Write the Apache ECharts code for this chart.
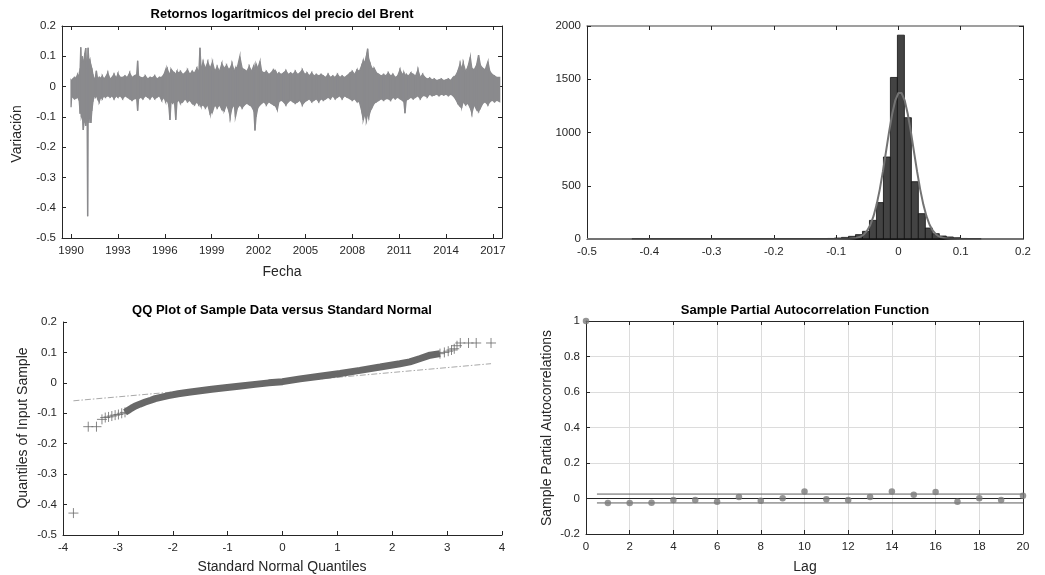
<!DOCTYPE html>
<html><head><meta charset="utf-8">
<script src="https://cdn.jsdelivr.net/npm/echarts@6/dist/echarts.min.js"></script>
<style>html,body{margin:0;padding:0;background:#fff}#c{width:1045px;height:575px}</style>
</head><body><div id="c"></div>
<script>
// ---------- Panel 1: log returns envelope ----------
const tsDates = [1990.00,1990.04,1990.12,1990.22,1990.32,1990.42,1990.52,1990.58,1990.62,1990.66,1990.72,1990.78,1990.83,1990.88,1990.94,1990.98,1991.03,1991.06,1991.09,1991.14,1991.20,1991.27,1991.33,1991.40,1991.46,1991.55,1991.62,1991.70,1991.80,1991.90,
1992.00,1992.10,1992.20,1992.35,1992.50,1992.62,1992.75,1992.90,1993.00,1993.15,1993.30,1993.45,1993.60,1993.75,1993.90,1994.05,1994.20,1994.26,1994.32,1994.45,1994.60,1994.75,1994.90,1995.05,1995.20,1995.35,1995.50,1995.65,1995.80,1995.95,
1996.05,1996.15,1996.25,1996.33,1996.40,1996.50,1996.62,1996.70,1996.78,1996.90,1997.00,1997.15,1997.30,1997.45,1997.60,1997.75,1997.90,1998.05,1998.18,1998.25,1998.32,1998.45,1998.60,1998.75,1998.90,1999.05,1999.20,1999.35,1999.50,1999.65,1999.80,1999.95,
2000.10,2000.18,2000.30,2000.45,2000.52,2000.65,2000.80,2000.95,2001.10,2001.25,2001.40,2001.55,2001.70,2001.77,2001.84,2001.95,2002.09,2002.20,2002.35,2002.50,2002.65,2002.80,2002.95,2003.10,2003.20,2003.30,2003.45,2003.60,2003.75,2003.90,
2004.05,2004.20,2004.35,2004.50,2004.65,2004.80,2004.95,2005.10,2005.25,2005.40,2005.55,2005.70,2005.85,2006.00,2006.15,2006.30,2006.45,2006.60,2006.75,2006.90,2007.05,2007.20,2007.35,2007.50,2007.65,2007.85,2008.00,2008.15,2008.30,2008.45,
2008.60,2008.70,2008.80,2008.90,2008.98,2009.05,2009.15,2009.25,2009.40,2009.55,2009.70,2009.85,2010.00,2010.15,2010.30,2010.45,2010.60,2010.75,2010.90,2011.05,2011.20,2011.30,2011.37,2011.45,2011.60,2011.75,2011.90,2012.05,2012.20,2012.35,
2012.50,2012.65,2012.80,2012.95,2013.10,2013.25,2013.40,2013.55,2013.70,2013.85,2014.00,2014.15,2014.30,2014.45,2014.60,2014.75,2014.90,2015.00,2015.10,2015.25,2015.40,2015.55,2015.65,2015.80,2015.95,2016.08,2016.20,2016.35,2016.50,2016.68,
2016.80,2016.95,2017.10,2017.25,2017.43];
const tsHigh = [.022,.020,.025,.030,.028,.040,.035,.060,.130,.070,.100,.075,.090,.110,.127,.080,.090,.060,.128,.085,.090,.070,.060,.040,.022,.030,.052,.025,.030,.028,
.035,.025,.030,.045,.025,.030,.040,.028,.042,.030,.030,.035,.030,.045,.030,.035,.040,.085,.035,.030,.028,.035,.025,.030,.028,.035,.025,.030,.030,.040,
.055,.060,.045,.040,.058,.050,.045,.040,.050,.045,.050,.040,.045,.055,.040,.050,.045,.060,.050,.128,.060,.080,.060,.080,.060,.080,.050,.065,.050,.075,.060,.070,
.055,.060,.075,.050,.060,.065,.099,.060,.055,.050,.066,.050,.070,.050,.075,.060,.083,.050,.045,.050,.040,.045,.055,.050,.040,.045,.040,.045,.052,.040,
.045,.040,.050,.040,.045,.055,.040,.045,.035,.045,.035,.040,.035,.040,.035,.030,.040,.030,.035,.030,.040,.030,.035,.030,.035,.045,.050,.040,.055,.050,
.070,.085,.080,.100,.125,.090,.075,.060,.060,.045,.040,.035,.040,.035,.045,.035,.040,.030,.035,.055,.040,.045,.035,.040,.035,.045,.040,.035,.055,.030,
.040,.030,.025,.028,.022,.025,.020,.022,.025,.020,.022,.025,.020,.030,.035,.050,.075,.060,.077,.050,.065,.097,.060,.055,.070,.104,.070,.060,.055,.082,
.050,.040,.035,.030,.030];
const tsLow = [-.068,-.030,-.035,-.040,-.038,-.035,-.045,-.090,-.060,-.100,-.090,-.143,-.120,-.100,-.130,-.110,-.120,-.428,-.100,-.120,-.090,-.120,-.080,-.050,-.030,-.035,-.030,-.040,-.050,-.035,
-.040,-.030,-.035,-.030,-.035,-.030,-.040,-.030,-.035,-.030,-.040,-.030,-.035,-.040,-.045,-.040,-.040,-.080,-.040,-.035,-.040,-.030,-.035,-.040,-.030,-.040,-.035,-.030,-.045,-.035,
-.050,-.045,-.060,-.110,-.050,-.055,-.050,-.110,-.050,-.045,-.055,-.050,-.040,-.050,-.045,-.055,-.060,-.050,-.060,-.055,-.065,-.060,-.070,-.060,-.090,-.083,-.060,-.070,-.060,-.075,-.080,-.060,
-.080,-.100,-.070,-.060,-.100,-.070,-.060,-.070,-.060,-.055,-.060,-.065,-.080,-.145,-.100,-.070,-.060,-.055,-.050,-.060,-.050,-.055,-.060,-.065,-.077,-.050,-.045,-.050,-.060,-.050,
-.045,-.050,-.055,-.050,-.045,-.060,-.050,-.045,-.040,-.050,-.045,-.040,-.050,-.040,-.045,-.040,-.035,-.040,-.030,-.040,-.035,-.030,-.040,-.030,-.035,-.040,-.045,-.040,-.050,-.050,
-.080,-.110,-.090,-.110,-.090,-.100,-.080,-.070,-.055,-.050,-.045,-.040,-.045,-.040,-.040,-.045,-.035,-.040,-.035,-.040,-.045,-.050,-.088,-.045,-.040,-.035,-.040,-.035,-.030,-.040,
-.030,-.030,-.035,-.025,-.030,-.028,-.025,-.030,-.025,-.028,-.025,-.030,-.025,-.030,-.040,-.055,-.065,-.068,-.050,-.060,-.055,-.070,-.088,-.060,-.075,-.082,-.070,-.055,-.050,-.060,
-.050,-.045,-.050,-.045,-.050];
const yearTicks = [1990,1993,1996,1999,2002,2005,2008,2011,2014,2017];

// ---------- Panel 2: histogram + normal fit ----------
const histMin = -0.428, histBinWidth = 0.01122;
const histCounts = [1,0,0,0,0,0,0,0,0,0,0,0,0,0,0,0,0,0,0,0,0,0,0,0,
  1,2,1,3,5,9,15,25,41,72,175,342,770,1517,1914,1139,538,238,103,50,28,19,12,5,3,2];
const fitX = [-0.5,-0.1,-0.08,-0.07,-0.06,-0.055,-0.05,-0.045,-0.04,-0.035,-0.03,-0.025,-0.02,-0.015,-0.01,-0.005,0,0.0025,0.005,0.01,0.015,0.02,0.025,0.03,0.035,0.04,0.045,0.05,0.055,0.06,0.065,0.075,0.085,0.1,0.2];
const fitY = [0,0,1.2,6,24,45,80,134,214,323,464,632,818,1006,1174,1302,1371,1380,1371,1302,1174,1006,818,632,464,323,214,134,80,45,24,6,1.2,0,0];

// ---------- Panel 3: QQ plot ----------
const qqX = [-3.81,-3.54,-3.39,-3.29,-3.23,-3.17,-3.11,-3.05,-2.99,-2.93,-2.87,-2.81,-2.75,-2.69,-2.60,-2.50,-2.40,-2.32,-2.20,-2.08,-1.90,-1.71,-1.50,-1.29,-1.05,-0.80,-0.50,-0.25,0.00,0.32,0.68,1.05,1.41,1.78,2.14,2.32,2.51,2.69,2.87,2.95,3.02,3.08,3.13,3.18,3.24,3.39,3.53,3.80];
const qqY = [-0.428,-0.144,-0.144,-0.120,-0.114,-0.112,-0.109,-0.106,-0.104,-0.100,-0.097,-0.090,-0.083,-0.077,-0.070,-0.063,-0.057,-0.052,-0.047,-0.042,-0.036,-0.031,-0.026,-0.021,-0.016,-0.011,-0.005,0.000,0.004,0.013,0.022,0.031,0.041,0.052,0.063,0.069,0.080,0.091,0.096,0.100,0.104,0.108,0.112,0.122,0.131,0.131,0.131,0.131];
const qqRefX = [-3.81, 3.80];
const qqRefY = [-0.059, 0.063];

// ---------- Panel 4: PACF ----------
const pacfLags = [0,1,2,3,4,5,6,7,8,9,10,11,12,13,14,15,16,17,18,19,20];
const pacfValues = [1,-0.026,-0.026,-0.024,-0.009,-0.009,-0.019,0.008,-0.013,0.002,0.039,-0.004,-0.009,0.008,0.039,0.021,0.036,-0.019,0.002,-0.009,0.015];
const pacfBoundX = [0.5, 20];
const pacfBound = 0.025;

// ---------- styling ----------
const FONT = '"Liberation Sans", Arial, Helvetica, sans-serif';
const AXC = '#262626';
const TS = '#8a8a8d';
const QQC = '#686868';

function mkAxis(grid, pos, min, max, interval, o) {
  o = o || {};
  const ax = {
    type: 'value', gridIndex: grid, position: pos, min: min, max: max,
    axisLine: {show: true, onZero: false, lineStyle: {color: o.lineColor || AXC, width: o.lineWidth || 1}},
    axisTick: {show: true, inside: true, length: 4, lineStyle: {color: AXC, width: 1}},
    axisLabel: {show: !!o.labels, color: AXC, fontSize: 11.5, fontFamily: FONT, margin: o.margin || 6,
      showMinLabel: true, showMaxLabel: true,
      formatter: o.fmt || function (v) { return String(parseFloat(Number(v).toFixed(4))); }},
    splitLine: {show: !!o.split, lineStyle: {color: '#dcdcdc', width: 1}}
  };
  if (interval != null) ax.interval = interval;
  if (o.custom) { ax.axisTick.customValues = o.custom; ax.axisLabel.customValues = o.custom; }
  return ax;
}

const tsMin = 1989.42, tsMax = 2017.58;

const xAxis = [
  mkAxis(0, 'bottom', tsMin, tsMax, null, {labels: true, custom: yearTicks, margin: 7, fmt: function (v) { return String(Math.round(v)); }}),
  mkAxis(0, 'top', tsMin, tsMax, null, {custom: yearTicks}),
  mkAxis(1, 'bottom', -0.5, 0.2, 0.1, {labels: true, margin: 7}),
  mkAxis(1, 'top', -0.5, 0.2, 0.1, {lineColor: '#808080', lineWidth: 1.5}),
  mkAxis(2, 'bottom', -4, 4, 1, {labels: true, margin: 7}),
  mkAxis(3, 'bottom', 0, 20, 2, {labels: true, split: true, margin: 7}),
  mkAxis(3, 'top', 0, 20, 2, {})
];
const yAxis = [
  mkAxis(0, 'left', -0.5, 0.2, 0.1, {labels: true}),
  mkAxis(0, 'right', -0.5, 0.2, 0.1, {}),
  mkAxis(1, 'left', 0, 2000, 500, {labels: true}),
  mkAxis(1, 'right', 0, 2000, 500, {}),
  mkAxis(2, 'left', -0.5, 0.2, 0.1, {labels: true}),
  mkAxis(3, 'left', -0.2, 1, 0.2, {labels: true, split: true}),
  mkAxis(3, 'right', -0.2, 1, 0.2, {})
];

// band segments between consecutive envelope readings
const tsSegments = [];
for (let i = 0; i < tsDates.length - 1; i++) {
  tsSegments.push([tsDates[i], tsHigh[i], tsLow[i], tsDates[i + 1], tsHigh[i + 1], tsLow[i + 1]]);
}

const histData = histCounts.map(function (c, k) {
  return [histMin + k * histBinWidth, histMin + (k + 1) * histBinWidth, c];
});
const histMax = histMin + histCounts.length * histBinWidth;

const bandLo = -2.87, bandHi = 2.87;
const qqBand = [], qqMarks = [];
qqX.forEach(function (x, i) {
  if (x >= bandLo && x <= bandHi) qqBand.push([x, qqY[i]]);
  if (x <= bandLo || x >= bandHi) qqMarks.push([x, qqY[i]]);
});

const series = [
  // panel 1
  {type: 'custom', xAxisIndex: 0, yAxisIndex: 0, data: tsSegments, encode: {x: [0, 3], y: [1, 2, 4, 5]}, z: 2,
   renderItem: function (params, api) {
     const a = api.coord([api.value(0), api.value(1)]);
     const b = api.coord([api.value(3), api.value(4)]);
     const c = api.coord([api.value(3), api.value(5)]);
     const d = api.coord([api.value(0), api.value(2)]);
     return {type: 'polygon', shape: {points: [a, b, c, d]},
             style: {fill: TS, stroke: TS, lineWidth: 1.3, lineJoin: 'miter'}};
   }},
  // panel 2
  {type: 'custom', xAxisIndex: 2, yAxisIndex: 2, data: histData, encode: {x: [0, 1], y: 2}, z: 2,
   renderItem: function (params, api) {
     const p0 = api.coord([api.value(0), api.value(2)]);
     const p1 = api.coord([api.value(1), 0]);
     return {type: 'rect', shape: {x: p0[0], y: p0[1], width: p1[0] - p0[0], height: p1[1] - p0[1]},
             style: {fill: '#434343', stroke: '#111', lineWidth: 0.8}};
   }},
  {type: 'line', xAxisIndex: 2, yAxisIndex: 2, symbol: 'none', clip: false,
   data: fitX.map(function (x, i) { return [x, fitY[i]]; }),
   lineStyle: {color: '#737373', width: 2}, z: 3},
  {type: 'line', xAxisIndex: 2, yAxisIndex: 2, symbol: 'none',
   data: [[histMin, 0], [histMax, 0]], lineStyle: {color: '#111', width: 1}, z: 4},
  // panel 3
  {type: 'line', xAxisIndex: 4, yAxisIndex: 4, symbol: 'none',
   data: qqRefX.map(function (x, i) { return [x, qqRefY[i]]; }),
   lineStyle: {color: '#a9a9a9', width: 1, type: [6, 2, 1.5, 2]}, z: 2},
  {type: 'line', xAxisIndex: 4, yAxisIndex: 4, symbol: 'none', data: qqBand,
   lineStyle: {color: QQC, width: 7, cap: 'butt'}, z: 3},
  {type: 'scatter', xAxisIndex: 4, yAxisIndex: 4, data: qqMarks, clip: false,
   symbol: 'path://M5,0L5,10M0,5L10,5', symbolSize: 10,
   itemStyle: {color: 'transparent', borderColor: QQC, borderWidth: 1}, z: 4},
  // panel 4
  {type: 'line', xAxisIndex: 5, yAxisIndex: 5, symbol: 'none',
   data: [[0, 0], [20, 0]], lineStyle: {color: AXC, width: 1}, z: 2},
  {type: 'line', xAxisIndex: 5, yAxisIndex: 5, symbol: 'none',
   data: pacfBoundX.map(function (x) { return [x, pacfBound]; }), lineStyle: {color: '#5c5c5c', width: 1}, z: 2},
  {type: 'line', xAxisIndex: 5, yAxisIndex: 5, symbol: 'none',
   data: pacfBoundX.map(function (x) { return [x, -pacfBound]; }), lineStyle: {color: '#5c5c5c', width: 1}, z: 2},
  {type: 'scatter', xAxisIndex: 5, yAxisIndex: 5, clip: false, symbol: 'circle', symbolSize: 6.5,
   data: pacfLags.map(function (l, i) { return [l, pacfValues[i]]; }),
   itemStyle: {color: '#7a7a7a'}, z: 4}
];

function txt(text, x, y, o) {
  o = o || {};
  return {type: 'text', x: x, y: y, rotation: o.rot || 0, z: 10,
    style: {text: text, fill: o.color || AXC, font: (o.bold ? 'bold ' : '') + (o.size || 14) + 'px ' + FONT,
            textAlign: 'center', textVerticalAlign: 'middle'}};
}

const graphic = [
  txt('Retornos logarítmicos del precio del Brent', 282, 14, {bold: true, size: 13, color: '#000'}),
  txt('Fecha', 282, 272),
  txt('Variación', 17, 134, {rot: Math.PI / 2}),
  txt('QQ Plot of Sample Data versus Standard Normal', 282, 310, {bold: true, size: 13, color: '#000'}),
  txt('Standard Normal Quantiles', 282, 567),
  txt('Quantiles of Input Sample', 23, 428, {rot: Math.PI / 2}),
  txt('Sample Partial Autocorrelation Function', 805, 310, {bold: true, size: 13, color: '#000'}),
  txt('Lag', 805, 567),
  txt('Sample Partial Autocorrelations', 547, 428, {rot: Math.PI / 2})
];

const chart = echarts.init(document.getElementById('c'), null, {renderer: 'canvas', width: 1045, height: 575});
chart.setOption({
  animation: false,
  backgroundColor: '#ffffff',
  grid: [
    {left: 62, top: 26, width: 440, height: 212, outerBoundsMode: 'none', containLabel: false},
    {left: 587, top: 26, width: 436, height: 213, outerBoundsMode: 'none', containLabel: false},
    {left: 63, top: 322, width: 439, height: 213, outerBoundsMode: 'none', containLabel: false},
    {left: 586, top: 321, width: 437, height: 213, outerBoundsMode: 'none', containLabel: false}
  ],
  xAxis: xAxis,
  yAxis: yAxis,
  series: series,
  graphic: graphic
});
</script></body></html>
